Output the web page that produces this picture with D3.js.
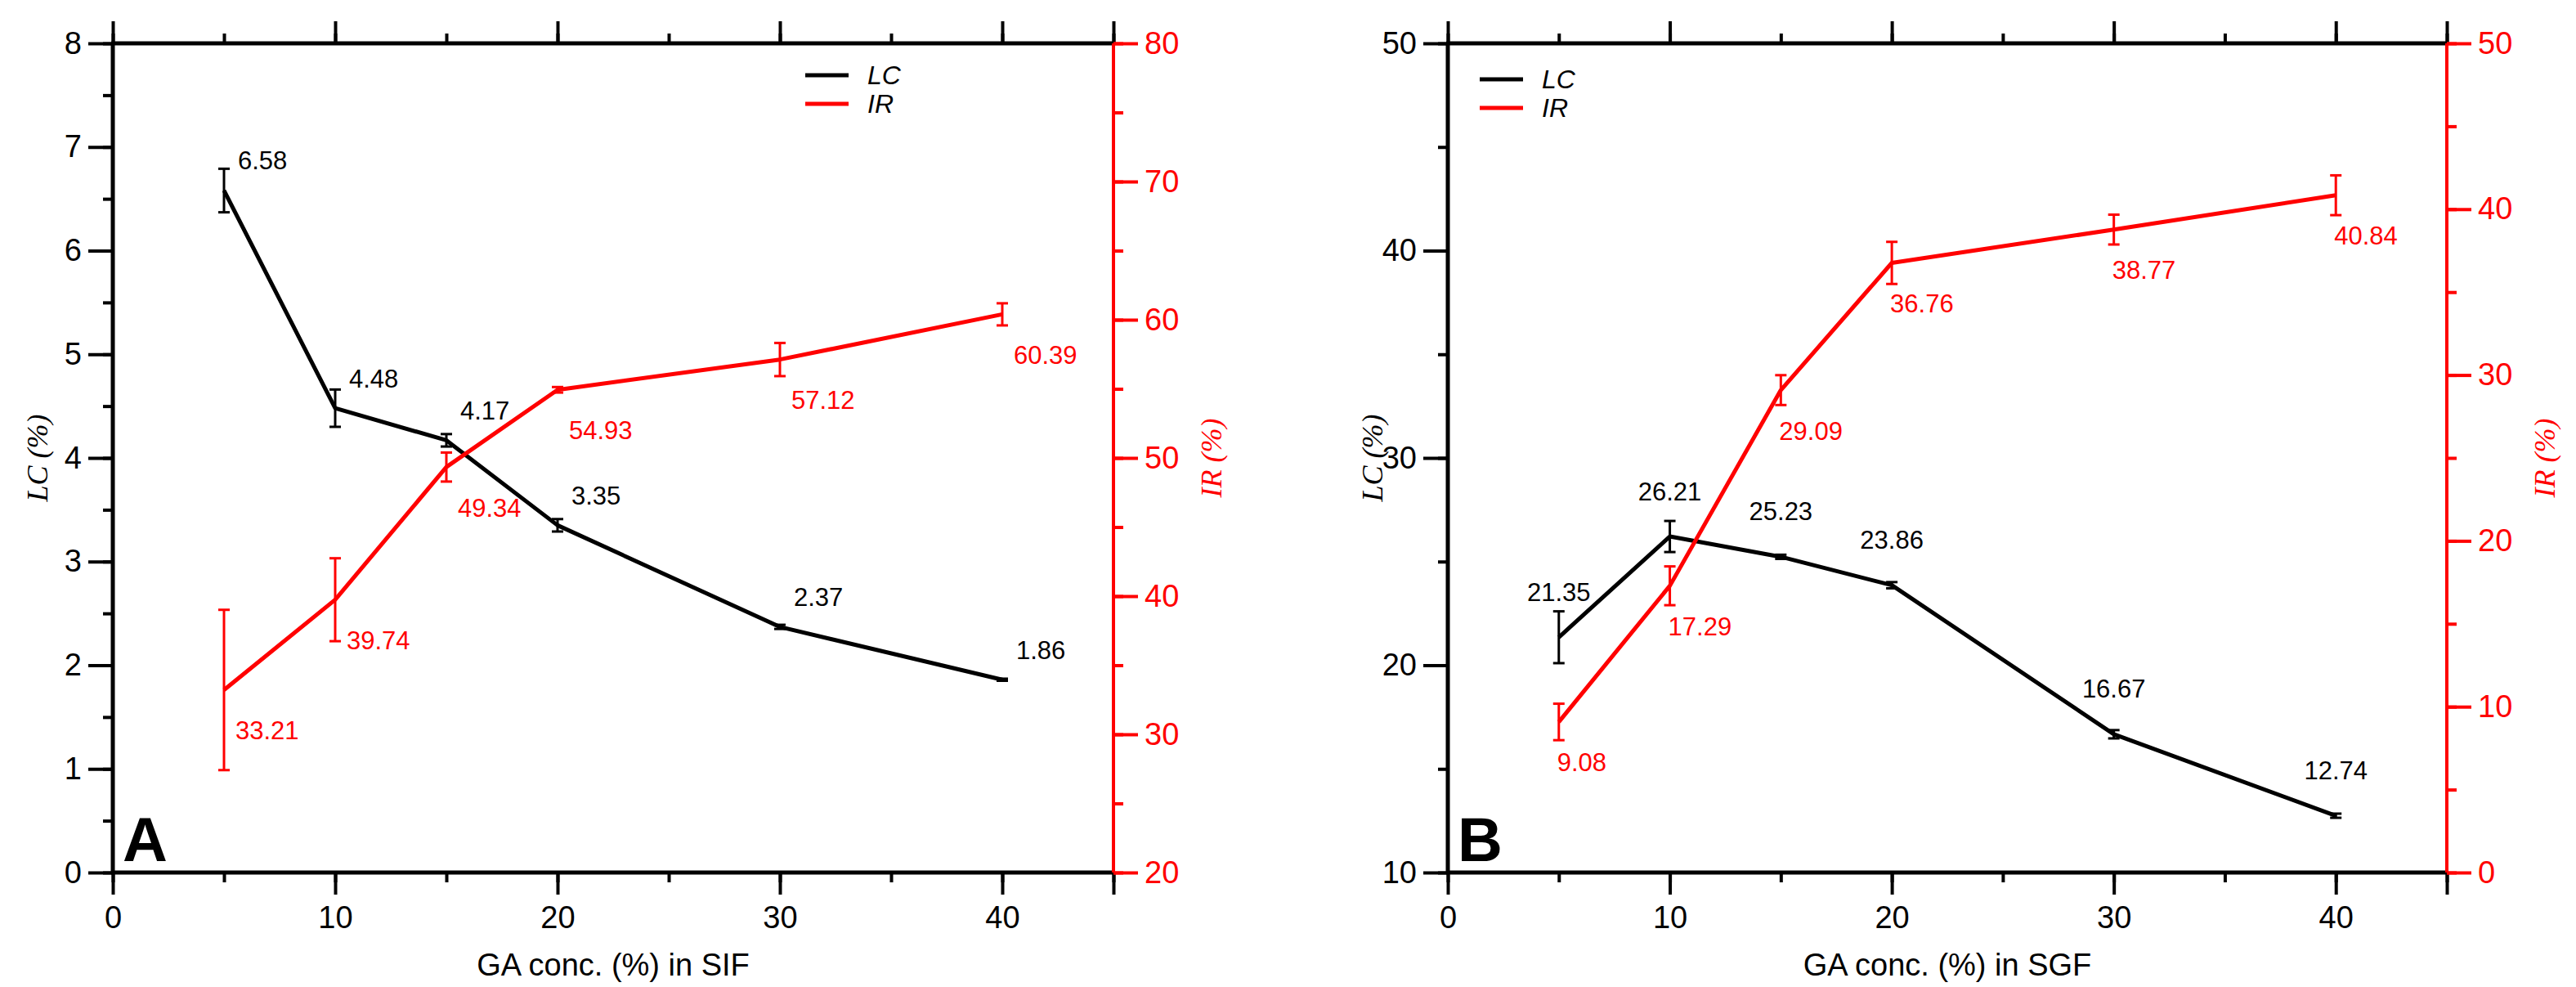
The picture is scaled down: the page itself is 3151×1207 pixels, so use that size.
<!DOCTYPE html>
<html><head><meta charset="utf-8">
<script src="https://cdn.jsdelivr.net/npm/d3@7"></script>
<style>body{margin:0;background:#fff}svg{display:block}text{font-family:"Liberation Sans",Arial,sans-serif}</style>
</head><body><svg id="c" width="3151" height="1207"></svg>
<script>
// ---- data ----
const gaConc = [5, 10, 15, 20, 30, 40];
const lcSIF = [6.58, 4.48, 4.17, 3.35, 2.37, 1.86];
const lcSIFErr = [0.21, 0.18, 0.06, 0.06, 0.02, 0.01];
const irSIF = [33.21, 39.74, 49.34, 54.93, 57.12, 60.39];
const irSIFErr = [5.8, 3.0, 1.05, 0.2, 1.2, 0.8];
const lcSGF = [21.35, 26.21, 25.23, 23.86, 16.67, 12.74];
const lcSGFErr = [1.25, 0.75, 0.1, 0.15, 0.2, 0.1];
const irSGF = [9.08, 17.29, 29.09, 36.76, 38.77, 40.84];
const irSGFErr = [1.1, 1.17, 0.9, 1.27, 0.9, 1.2];
const xTicks = [0, 10, 20, 30, 40];
const lcTicksA = [0,1,2,3,4,5,6,7,8];
const irTicksA = [20,30,40,50,60,70,80];
const lcTicksB = [10,20,30,40,50];
const irTicksB = [0,10,20,30,40,50];

const svg = d3.select("#c");
const RED = "#ff0000";

function panel(o){
  const g = svg.append("g");
  const x = d3.scaleLinear().domain([0,45]).range([o.left,o.right]);
  const yL = d3.scaleLinear().domain(o.lcDom).range([o.bottom,o.top]);
  const yR = d3.scaleLinear().domain(o.irDom).range([o.bottom,o.top]);
  // frame ticks
  const xMinor = d3.range(0,46,5);
  // bottom axis
  const bx = g.append("g").attr("transform",`translate(0,${o.bottom})`)
    .call(d3.axisBottom(x).tickValues(xMinor).tickSize(12).tickFormat(""));
  const bx2 = g.append("g").attr("transform",`translate(0,${o.bottom})`)
    .call(d3.axisBottom(x).tickValues(d3.range(0,46,10).concat([45])).tickSize(27).tickFormat(d=>xTicks.includes(d)?d:""));
  const tx = g.append("g").attr("transform",`translate(0,${o.top})`)
    .call(d3.axisTop(x).tickValues(xMinor).tickSize(12).tickFormat(""));
  const tx2 = g.append("g").attr("transform",`translate(0,${o.top})`)
    .call(d3.axisTop(x).tickValues(d3.range(0,46,10).concat([45])).tickSize(27).tickFormat(""));
  const ly = g.append("g").attr("transform",`translate(${o.left},0)`)
    .call(d3.axisLeft(yL).tickValues(d3.range(o.lcDom[0],o.lcDom[1]+1e-9,o.lcMinor)).tickSize(12).tickFormat(""));
  const ly2 = g.append("g").attr("transform",`translate(${o.left},0)`)
    .call(d3.axisLeft(yL).tickValues(o.lcTicks).tickSize(30).tickPadding(8));
  const ry = g.append("g").attr("transform",`translate(${o.right},0)`)
    .call(d3.axisRight(yR).tickValues(d3.range(o.irDom[0],o.irDom[1]+1e-9,5)).tickSize(12).tickFormat(""));
  const ry2 = g.append("g").attr("transform",`translate(${o.right},0)`)
    .call(d3.axisRight(yR).tickValues(o.irTicks).tickSize(30).tickPadding(8));
  [bx,bx2,tx,tx2,ly,ly2,ry,ry2].forEach(a=>{a.select(".domain").remove();a.selectAll("line").attr("stroke-width",4);});
  [bx2,ly2,ry2].forEach(a=>a.selectAll("text").attr("font-size",38).attr("fill","#000"));
  bx2.selectAll("text").attr("dy","1.0em");
  [ry,ry2].forEach(a=>a.selectAll("line").attr("stroke",RED));
  ry2.selectAll("text").attr("fill",RED);
  // frame lines
  g.append("line").attr("x1",o.left-2).attr("x2",o.right).attr("y1",o.top).attr("y2",o.top).attr("stroke","#000").attr("stroke-width",5);
  g.append("line").attr("x1",o.left-2).attr("x2",o.right).attr("y1",o.bottom).attr("y2",o.bottom).attr("stroke","#000").attr("stroke-width",5);
  g.append("line").attr("x1",o.left).attr("x2",o.left).attr("y1",o.top).attr("y2",o.bottom).attr("stroke","#000").attr("stroke-width",5);
  g.append("line").attr("x1",o.right).attr("x2",o.right).attr("y1",o.top).attr("y2",o.bottom).attr("stroke",RED).attr("stroke-width",4);

  function series(vals, errs, y, color, lab){
    const pts = gaConc.map((c,i)=>({x:c,v:vals[i],e:errs[i]}));
    g.append("path").datum(pts).attr("fill","none").attr("stroke",color).attr("stroke-width",5)
      .attr("stroke-linejoin","round").attr("d",d3.line().x(d=>x(d.x)).y(d=>y(d.v)));
    const eb = g.append("g").attr("stroke",color).attr("stroke-width",3);
    pts.forEach(d=>{
      const X=x(d.x), y1=y(d.v+d.e), y2=y(d.v-d.e);
      eb.append("line").attr("x1",X).attr("x2",X).attr("y1",y1).attr("y2",y2);
      eb.append("line").attr("x1",X-7).attr("x2",X+7).attr("y1",y1).attr("y2",y1);
      eb.append("line").attr("x1",X-7).attr("x2",X+7).attr("y1",y2).attr("y2",y2);
    });
    g.append("g").selectAll("text").data(pts).join("text")
      .attr("x",d=>x(d.x)+lab.dx).attr("y",d=>y(d.v)+lab.dy)
      .attr("text-anchor",lab.anchor).attr("dominant-baseline","central")
      .attr("font-size",31).attr("fill",color).text(d=>d.v.toFixed(2));
  }
  series(o.lc,o.lcErr,yL,"#000",o.lcLab);
  series(o.ir,o.irErr,yR,RED,o.irLab);

  // legend
  const lg = g.append("g");
  [["LC","#000",o.legY],["IR",RED,o.legY+35]].forEach(([t,c,yy])=>{
    lg.append("line").attr("x1",o.legX).attr("x2",o.legX+53).attr("y1",yy).attr("y2",yy).attr("stroke",c).attr("stroke-width",5);
    lg.append("text").attr("x",o.legX+76).attr("y",yy).attr("dominant-baseline","central")
      .attr("font-family","Liberation Serif").attr("font-style","italic").attr("font-size",32).attr("fill","#000").text(t);
  });
  // axis titles
  const cy=(o.top+o.bottom)/2;
  const t1=g.append("text").attr("transform",`translate(${o.left-92},${cy}) rotate(-90)`).attr("text-anchor","middle")
    .attr("dominant-baseline","central").attr("font-size",36).attr("fill","#000");
  t1.append("tspan").attr("font-family","Liberation Serif").attr("font-style","italic").text("LC ");
  t1.append("tspan").attr("font-family","Liberation Serif").attr("font-style","italic").text("(%)");
  const t2=g.append("text").attr("transform",`translate(${o.right+120},${cy}) rotate(-90)`).attr("text-anchor","middle")
    .attr("dominant-baseline","central").attr("font-size",36).attr("fill",RED);
  t2.append("tspan").attr("font-family","Liberation Serif").attr("font-style","italic").text("IR ");
  t2.append("tspan").attr("font-family","Liberation Serif").attr("font-style","italic").text("(%)");
  g.append("text").attr("x",(o.left+o.right)/2).attr("y",o.bottom+113).attr("text-anchor","middle")
    .attr("dominant-baseline","central").attr("font-size",38).attr("fill","#000").text(o.xTitle);
  g.append("text").attr("x",o.left+12).attr("y",o.bottom-14).attr("font-size",76).attr("font-weight","bold")
    .attr("font-family","Liberation Sans").attr("fill","#000").text(o.letter);
}

panel({left:138,right:1362,top:53,bottom:1067,lcDom:[0,8],irDom:[20,80],lcMinor:0.5,
  lcTicks:lcTicksA,irTicks:irTicksA,lc:lcSIF,lcErr:lcSIFErr,ir:irSIF,irErr:irSIFErr,
  lcLab:{dx:17,dy:-36,anchor:"start"},irLab:{dx:14,dy:50,anchor:"start"},
  legX:985,legY:92,xTitle:"GA conc. (%) in SIF",letter:"A"});
panel({left:1771,right:2993,top:53,bottom:1067,lcDom:[10,50],irDom:[0,50],lcMinor:5,
  lcTicks:lcTicksB,irTicks:irTicksB,lc:lcSGF,lcErr:lcSGFErr,ir:irSGF,irErr:irSGFErr,
  lcLab:{dx:0,dy:-55,anchor:"middle"},irLab:{dx:-2,dy:50,anchor:"start"},
  legX:1810,legY:97,xTitle:"GA conc. (%) in SGF",letter:"B"});
</script></body></html>
